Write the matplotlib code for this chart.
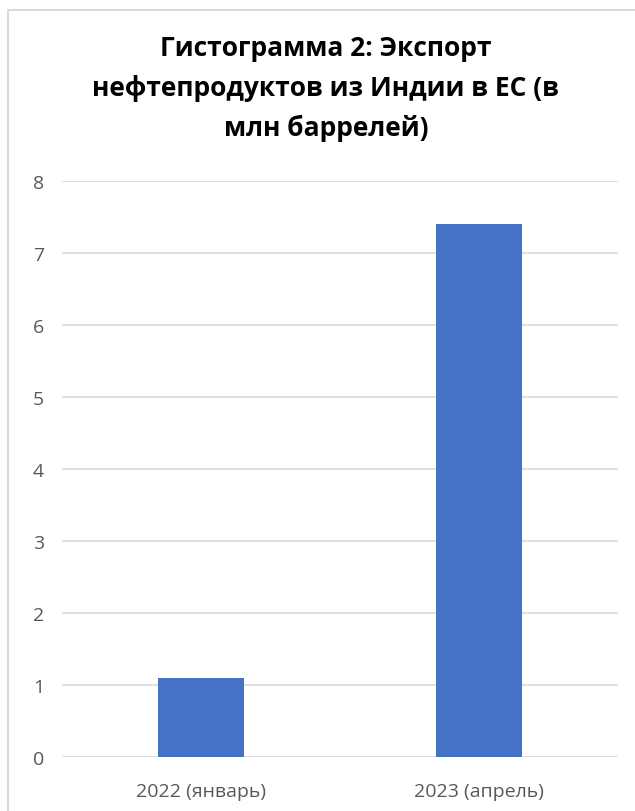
import matplotlib.pyplot as plt
from matplotlib.patches import Rectangle

# данные
categories = ["2022 (январь)", "2023 (апрель)"]
values = [1.1, 7.4]
yticks = [0, 1, 2, 3, 4, 5, 6, 7, 8]
title = "Гистограмма 2: Экспорт\nнефтепродуктов из Индии в ЕС (в\nмлн баррелей)"

W, H = 635, 812
fig = plt.figure(figsize=(W / 100, H / 100), dpi=100)
fig.patch.set_facecolor("white")

# рамка диаграммы (правый и нижний края обрезаны)
fig.patches.append(Rectangle((8 / W, -0.05), 1.1, 1 - 11 / H + 0.05,
                             transform=fig.transFigure, fill=False,
                             ec="#d9d9d9", lw=1.5))

ax = fig.add_axes([62 / W, 1 - 758 / H, (618 - 62) / W, (758 - 182) / H])
x = range(len(categories))
ax.bar(x, values, width=0.31, color="#4472c4", zorder=3)
ax.set_xlim(-0.5, 1.5)
ax.set_ylim(0, 8)
ax.set_yticks(yticks)
ax.set_xticks(list(x))
ax.set_xticklabels(categories)
ax.grid(axis="y", color="#d9d9d9", lw=1.2, zorder=0)
for s in ax.spines.values():
    s.set_visible(False)
ax.tick_params(length=0, labelsize=14, colors="#595959", pad=18)
ax.tick_params(axis="y", pad=13)
for lbl in ax.get_xticklabels() + ax.get_yticklabels():
    lbl.set_fontfamily("Open Sans")

fig.text(0.513, 1 - 35 / H, title, ha="center", va="top",
         fontsize=19, fontweight="bold", family="Open Sans",
         linespacing=1.6, color="black")

fig.savefig("out.png", dpi=100)
